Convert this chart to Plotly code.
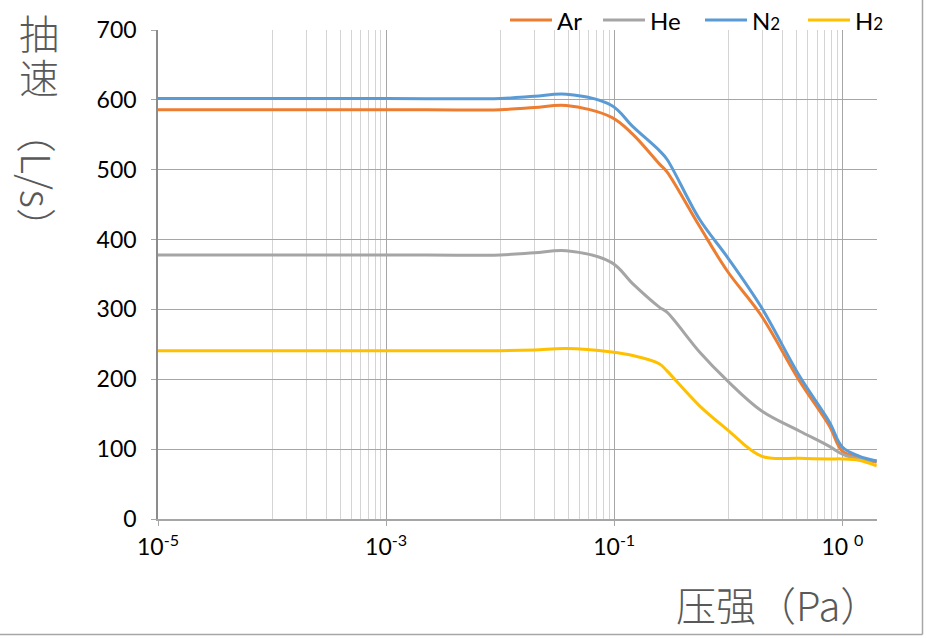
import plotly.graph_objects as go

# ---- data ----
pressure = [1e-5, 1e-4, 1e-3, 1e-2, 0.02, 0.038, 0.095, 0.145, 0.25, 0.29,
            0.56, 0.98, 1.95, 4.2, 7.7, 10, 14, 20]
ar = [586, 586, 586, 586, 589, 592, 575, 551, 508, 497, 419, 355, 291, 198, 133, 97, 88, 81]
he = [378, 378, 378, 378, 381, 384, 367, 337, 303, 296, 239, 198, 155, 126, 104, 93, 86, 83]
n2 = [602, 602, 602, 602, 605, 608, 592, 562, 527, 515, 429, 375, 303, 205, 139, 103, 90, 83]
h2 = [241, 241, 241, 241, 242, 244, 239, 234, 222, 212, 162, 128, 90, 87, 86, 86, 84, 76]

series_names = ["Ar", "He", "N<span style='font-size:17px'>2</span>", "H<span style='font-size:17px'>2</span>"]
series_values = [ar, he, n2, h2]
series_colors = ["#ED7D31", "#A5A5A5", "#5B9BD5", "#FFC000"]

x_tickvals = [1e-5, 1e-3, 1e-1, 1e1]
x_ticktext = ["10<sup>-5</sup>", "10<sup>-3</sup>", "10<sup>-1</sup>", "10 <sup>0</sup>"]
minor_vals = [1e-4, 1e-2, 1e0]
for base in [1e-4, 1e-2, 1e0]:
    minor_vals += [base * k for k in range(2, 10)]
y_tickvals = [0, 100, 200, 300, 400, 500, 600, 700]

fig = go.Figure()
for name, vals, col in zip(series_names, series_values, series_colors):
    fig.add_trace(go.Scatter(x=pressure, y=vals, mode="lines", name=name, showlegend=False,
                             line=dict(color=col, width=3, shape="spline", smoothing=1.0)))

tick_font = dict(family="Lato, Open Sans, sans-serif", size=23, color="#000000")
title_font = dict(family="Noto Sans CJK SC", size=40, color="#595959", weight=300)
legend_font = dict(family="Lato, Open Sans, sans-serif", size=24, color="#000000")

L, R, T, B = 158, 49, 30, 119
PW = 926 - L - R
PH = 638 - T - B

def px(xp):
    return (xp - L) / PW

def py(yp):
    return 1 - (yp - T) / PH

fig.update_layout(
    width=926, height=638,
    margin=dict(l=L, r=R, t=T, b=B, autoexpand=False),
    paper_bgcolor="white", plot_bgcolor="white",
    showlegend=False,
    xaxis=dict(type="log", range=[-5, 1.304],
               tickmode="array", tickvals=x_tickvals, ticktext=x_ticktext,
               ticks="outside", ticklen=5, tickcolor="#a6a6a6",
               showgrid=True, gridcolor="#a6a6a6", gridwidth=1,
               minor=dict(tickmode="array", tickvals=minor_vals, showgrid=True,
                          gridcolor="#d4d4d4", gridwidth=1, ticks=""),
               showline=True, linecolor="#a6a6a6", linewidth=1.5,
               zeroline=False, tickfont=tick_font, ticklabelstandoff=2),
    yaxis=dict(range=[0, 700], tickmode="array", tickvals=y_tickvals,
               ticks="outside", ticklen=5, tickcolor="#a6a6a6",
               showgrid=True, gridcolor="#a6a6a6", gridwidth=1,
               showline=True, linecolor="#8c8c8c", linewidth=1.5,
               zeroline=False, tickfont=tick_font, ticklabelstandoff=10),
)

# legend drawn as line samples + labels (Excel style, long line samples)
legend_starts = [510, 603, 705, 808]
for name, col, x0 in zip(series_names, series_colors, legend_starts):
    fig.add_shape(type="line", xref="paper", yref="paper", x0=px(x0), x1=px(x0 + 42),
                  y0=py(20), y1=py(20), line=dict(color=col, width=3))
    fig.add_annotation(text=name, xref="paper", yref="paper", x=px(x0 + 45), y=py(20),
                       showarrow=False, font=legend_font, xanchor="left", yanchor="middle")

# axis titles (vertical Chinese title built from upright characters + rotated latin part)
fig.add_annotation(text="抽", xref="paper", yref="paper", x=px(39), y=py(32), height=42,
                   showarrow=False, font=title_font, xanchor="center", yanchor="middle")
fig.add_annotation(text="速", xref="paper", yref="paper", x=px(39), y=py(76), height=42,
                   showarrow=False, font=title_font, xanchor="center", yanchor="middle")
fig.add_annotation(text="（L/s）", xref="paper", yref="paper", textangle=90,
                   x=px(38), y=py(180),
                   showarrow=False, font=title_font, xanchor="center", yanchor="middle")
fig.add_annotation(text="压强（Pa）", xref="paper", yref="paper", x=px(778), y=py(604),
                   showarrow=False, font=title_font, xanchor="center", yanchor="middle")

# chart-area border (right and bottom edges)
fig.add_shape(type="line", xref="paper", yref="paper", x0=px(922.5), x1=px(922.5),
              y0=py(634.5), y1=py(0), line=dict(color="#a6a6a6", width=1.5))
fig.add_shape(type="line", xref="paper", yref="paper", x0=px(0), x1=px(922.5),
              y0=py(634.5), y1=py(634.5), line=dict(color="#a6a6a6", width=1.5))

fig.write_html("out.html", config={"displayModeBar": False},
               post_script="document.body.style.margin='0';document.body.style.padding='0';")
